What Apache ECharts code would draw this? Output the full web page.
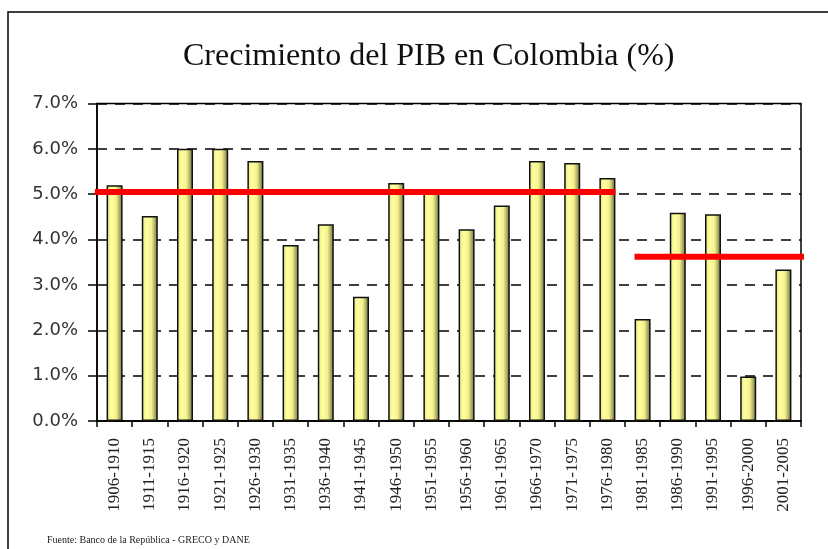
<!DOCTYPE html>
<html>
<head>
<meta charset="utf-8">
<script src="https://cdn.jsdelivr.net/npm/echarts@6/dist/echarts.min.js"></script>
<style>
    html, body { margin: 0; padding: 0; background: #fff; }
    #chart { width: 828px; height: 549px; }
</style>
</head>
<body>
<div id="chart"></div>
<script>
    // periodos quinquenales
    var periods = ['1906-1910','1911-1915','1916-1920','1921-1925','1926-1930','1931-1935','1936-1940',
        '1941-1945','1946-1950','1951-1955','1956-1960','1961-1965','1966-1970','1971-1975','1976-1980',
        '1981-1985','1986-1990','1991-1995','1996-2000','2001-2005']
    // crecimiento del PIB (%)
    var growth = [5.20, 4.52, 6.00, 6.00, 5.73, 3.88, 4.34, 2.74, 5.25, 5.05,
        4.23, 4.75, 5.73, 5.69, 5.36, 2.25, 4.59, 4.56, 0.98, 3.34]
    var yTicks = [0, 1, 2, 3, 4, 5, 6, 7]
    // promedios (lineas rojas), en unidades de categoria
    var avgBefore = [[-0.06, 5.05], [14.73, 5.05]]
    var avgAfter = [[15.27, 3.62], [20.11, 3.62]]

    var chart = echarts.init(document.getElementById('chart'))
    var option = {
        animation: false,
        title: {
            text: 'Crecimiento del PIB en Colombia (%)',
            left: 178,
            top: 36,
            textStyle: {
                fontFamily: 'Liberation Serif',
                fontSize: 32,
                fontWeight: 'normal',
                color: '#111'
            }
        },
        graphic: [
            {   // marco exterior
                type: 'rect',
                shape: {x: 8, y: 12, width: 860, height: 580},
                style: {fill: 'none', stroke: '#000', lineWidth: 1.5},
                silent: true
            },
            {
                type: 'text',
                left: 47,
                top: 535,
                style: {
                    text: 'Fuente: Banco de la República - GRECO y DANE',
                    font: '10px "Liberation Serif"',
                    fill: '#222'
                }
            }
        ],
        grid: {
            show: true,
            left: 97,
            top: 103.5,
            right: 27,
            bottom: 128,
            borderColor: '#000',
            borderWidth: 1.5,
            backgroundColor: '#fff'
        },
        xAxis: [
            {
                type: 'category',
                data: periods,
                axisLine: {lineStyle: {color: '#000', width: 1.5}},
                axisTick: {show: true, interval: 0, length: 6, lineStyle: {color: '#000', width: 1.5}},
                axisLabel: {
                    interval: 0,
                    rotate: 90,
                    margin: 17,
                    fontFamily: 'Liberation Serif',
                    fontSize: 17,
                    color: '#222'
                }
            },
            {   // eje auxiliar para las lineas de promedio
                type: 'value',
                min: 0,
                max: periods.length,
                show: false
            }
        ],
        yAxis: {
            type: 'value',
            min: yTicks[0],
            max: yTicks[yTicks.length - 1],
            interval: 1,
            axisLine: {show: true, lineStyle: {color: '#000', width: 1.5}},
            axisTick: {show: true, length: 9, lineStyle: {color: '#000', width: 1.5}},
            axisLabel: {
                margin: 19,
                fontFamily: 'DejaVu Sans',
                fontSize: 18,
                color: '#333',
                formatter: function (v) { return v.toFixed(1) + '%' }
            },
            splitLine: {
                show: true,
                lineStyle: {color: '#000', width: 1.5, type: [10, 8]}
            }
        },
        series: [
            {
                type: 'bar',
                data: growth,
                barWidth: 16,
                z: 2,
                itemStyle: {
                    borderColor: '#111',
                    borderWidth: 1.5,
                    color: new echarts.graphic.LinearGradient(0, 0, 1, 0, [
                        {offset: 0, color: '#e6e680'},
                        {offset: 0.3, color: '#ffffa0'},
                        {offset: 0.6, color: '#f2f290'},
                        {offset: 1, color: '#6e6e3a'}
                    ])
                }
            },
            {
                type: 'line',
                xAxisIndex: 1,
                data: avgBefore,
                symbol: 'none',
                clip: false,
                z: 5,
                lineStyle: {color: '#ff0000', width: 6}
            },
            {
                type: 'line',
                xAxisIndex: 1,
                data: avgAfter,
                symbol: 'none',
                clip: false,
                z: 5,
                lineStyle: {color: '#ff0000', width: 6}
            }
        ]
    }
    chart.setOption(option)
</script>
</body>
</html>
